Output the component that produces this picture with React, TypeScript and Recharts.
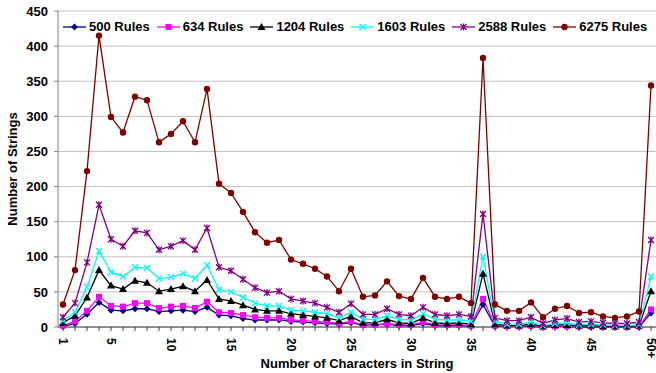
import React from 'react'
import { CartesianGrid, Legend, Line, LineChart, XAxis, YAxis } from 'recharts'

const CATEGORIES = [
  '1', '2', '3', '4', '5', '6', '7', '8', '9', '10',
  '11', '12', '13', '14', '15', '16', '17', '18', '19', '20',
  '21', '22', '23', '24', '25', '26', '27', '28', '29', '30',
  '31', '32', '33', '34', '35', '36', '37', '38', '39', '40',
  '41', '42', '43', '44', '45', '46', '47', '48', '49', '50+',
]

const TICK_LABELS = ['1', '5', '10', '15', '20', '25', '30', '35', '40', '45', '50+']
const Y_TICKS = [0, 50, 100, 150, 200, 250, 300, 350, 400, 450]

const RULES_500 = [
  1, 5, 18, 35, 24, 23, 26, 26, 22, 23,
  24, 22, 28, 17, 16, 12, 10, 10, 10, 8,
  7, 6, 5, 4, 6, 3, 3, 4, 2, 2,
  5, 2, 2, 2, 1, 32, 1, 1, 1, 1,
  0, 1, 1, 0, 0, 0, 0, 0, 0, 20,
]
const RULES_634 = [
  2, 8, 23, 43, 30, 29, 34, 34, 27, 29,
  30, 27, 36, 21, 20, 17, 14, 13, 13, 10,
  9, 8, 7, 5, 8, 3, 3, 5, 3, 3,
  7, 3, 3, 3, 2, 40, 2, 1, 1, 2,
  0, 1, 1, 1, 1, 0, 0, 0, 1, 25,
]
const RULES_1204 = [
  6, 16, 42, 81, 59, 54, 66, 63, 51, 54,
  58, 51, 67, 40, 37, 31, 25, 23, 23, 19,
  17, 15, 13, 9, 15, 6, 6, 11, 6, 5,
  13, 6, 5, 6, 4, 76, 4, 2, 2, 4,
  1, 3, 3, 2, 2, 1, 1, 1, 2, 51,
]
const RULES_1603 = [
  9, 21, 57, 108, 78, 72, 85, 84, 69, 71,
  76, 69, 88, 53, 50, 42, 34, 30, 30, 24,
  23, 21, 19, 13, 21, 11, 11, 16, 11, 10,
  19, 11, 10, 10, 8, 100, 8, 4, 4, 7,
  2, 5, 6, 3, 4, 3, 2, 2, 3, 72,
]
const RULES_2588 = [
  14, 34, 92, 174, 125, 115, 137, 134, 110, 115,
  123, 110, 141, 85, 80, 68, 56, 49, 51, 40,
  37, 34, 28, 21, 33, 18, 18, 26, 18, 16,
  28, 18, 16, 18, 15, 161, 13, 9, 9, 14,
  5, 10, 12, 7, 8, 6, 5, 5, 7, 124,
]
const RULES_6275 = [
  32, 81, 222, 415, 299, 277, 328, 323, 263, 275,
  293, 263, 339, 204, 191, 164, 135, 120, 124, 96,
  90, 83, 72, 51, 83, 43, 45, 65, 44, 40,
  70, 43, 40, 43, 34, 383, 32, 23, 23, 35,
  14, 26, 30, 20, 21, 15, 13, 15, 22, 344,
]

type MarkerKind = 'diamond' | 'square' | 'triangle' | 'cross' | 'star' | 'circle'

const SERIES: { key: string; name: string; color: string; marker: MarkerKind; values: number[] }[] = [
  { key: 'r500', name: '500 Rules', color: '#000080', marker: 'diamond', values: RULES_500 },
  { key: 'r634', name: '634 Rules', color: '#ff00ff', marker: 'square', values: RULES_634 },
  { key: 'r1204', name: '1204 Rules', color: '#000000', marker: 'triangle', values: RULES_1204 },
  { key: 'r1603', name: '1603 Rules', color: '#00ffff', marker: 'cross', values: RULES_1603 },
  { key: 'r2588', name: '2588 Rules', color: '#800080', marker: 'star', values: RULES_2588 },
  { key: 'r6275', name: '6275 Rules', color: '#800000', marker: 'circle', values: RULES_6275 },
]

const data = CATEGORIES.map((name, i) => {
  const row: Record<string, string | number> = { name }
  SERIES.forEach((s) => {
    row[s.key] = s.values[i]
  })
  return row
})

const FONT = '"Liberation Sans", Arial, sans-serif'

function Marker({ kind, color, cx, cy }: { kind: MarkerKind; color: string; cx: number; cy: number }) {
  switch (kind) {
    case 'diamond':
      return <path d={`M${cx},${cy - 3.5}L${cx + 3.5},${cy}L${cx},${cy + 3.5}L${cx - 3.5},${cy}Z`} fill={color} />
    case 'square':
      return <rect x={cx - 3} y={cy - 3} width={6} height={6} fill={color} />
    case 'triangle':
      return <path d={`M${cx},${cy - 4}L${cx + 4},${cy + 3}L${cx - 4},${cy + 3}Z`} fill={color} />
    case 'cross':
      return (
        <path
          d={`M${cx - 3},${cy - 3}L${cx + 3},${cy + 3}M${cx + 3},${cy - 3}L${cx - 3},${cy + 3}`}
          stroke={color}
          strokeWidth={1.3}
        />
      )
    case 'star':
      return (
        <path
          d={`M${cx - 3},${cy - 3}L${cx + 3},${cy + 3}M${cx + 3},${cy - 3}L${cx - 3},${cy + 3}M${cx},${cy - 3.5}L${cx},${cy + 3.5}`}
          stroke={color}
          strokeWidth={1.3}
        />
      )
    default:
      return <circle cx={cx} cy={cy} r={3.2} fill={color} />
  }
}

function makeDot(kind: MarkerKind, color: string, key: string) {
  return (props: any) => {
    const { cx, cy, index } = props
    if (cx == null || cy == null) return <g key={`${key}-${index}`} />
    return (
      <g key={`${key}-${index}`}>
        <Marker kind={kind} color={color} cx={cx} cy={cy} />
      </g>
    )
  }
}

function CategoryTick(props: any) {
  const { x, y, payload } = props
  if (!TICK_LABELS.includes(payload.value)) return null
  return (
    <g transform={`translate(${x},${y})`}>
      <text
        transform="rotate(90)"
        x={0}
        y={0}
        dy="0.35em"
        textAnchor="start"
        fontSize={12}
        fontWeight="bold"
        fontFamily={FONT}
        fill="#000"
      >
        {payload.value}
      </text>
    </g>
  )
}

function ChartLegend() {
  return (
    <div
      style={{
        display: 'flex',
        whiteSpace: 'nowrap',
        fontFamily: FONT,
        fontWeight: 'bold',
        fontSize: 13,
        lineHeight: '15px',
        color: '#000',
      }}
    >
      {SERIES.map((s) => (
        <div key={s.key} style={{ display: 'flex', alignItems: 'center', marginRight: 7, flexShrink: 0 }}>
          <svg width={23} height={10} style={{ marginRight: 3 }}>
            <line x1={0} y1={5} x2={23} y2={5} stroke={s.color} strokeWidth={1.3} />
            <Marker kind={s.marker} color={s.color} cx={11.5} cy={5} />
          </svg>
          <span>{s.name}</span>
        </div>
      ))}
    </div>
  )
}

export default function App() {
  return (
    <div style={{ position: 'absolute', left: 0, top: 0, width: 656, height: 373, overflow: 'hidden', background: '#fff' }}>
      <LineChart width={656} height={373} data={data} margin={{ top: 11, right: 0, bottom: 0, left: 0 }}>
        <CartesianGrid vertical={false} stroke="#c0c0c0" />
        <XAxis
          dataKey="name"
          interval={0}
          padding={{ left: 5, right: 5 }}
          height={46}
          stroke="#404040"
          tickSize={4}
          tickMargin={7}
          tick={<CategoryTick />}
          label={{
            value: 'Number of Characters in String',
            position: 'insideBottom',
            offset: 5,
            style: { fontFamily: FONT, fontWeight: 'bold', fontSize: 13, fill: '#000' },
          }}
        />
        <YAxis
          width={58}
          domain={[0, 450]}
          ticks={Y_TICKS}
          interval={0}
          stroke="#808080"
          tickSize={4}
          tickMargin={6}
          tick={{ fontFamily: FONT, fontWeight: 'bold', fontSize: 13, fill: '#000' }}
          label={{
            value: 'Number of Strings',
            angle: -90,
            position: 'insideLeft',
            offset: 12,
            style: { textAnchor: 'middle', fontFamily: FONT, fontWeight: 'bold', fontSize: 13, fill: '#000' },
          }}
        />
        <Legend
          verticalAlign="middle"
          layout="horizontal"
          content={<ChartLegend />}
          wrapperStyle={{ top: 19, left: 63, width: 590 }}
        />
        {SERIES.map((s) => (
          <Line
            key={s.key}
            dataKey={s.key}
            name={s.name}
            stroke={s.color}
            strokeWidth={1.3}
            dot={makeDot(s.marker, s.color, s.key)}
            activeDot={false}
            isAnimationActive={false}
          />
        ))}
      </LineChart>
    </div>
  )
}
